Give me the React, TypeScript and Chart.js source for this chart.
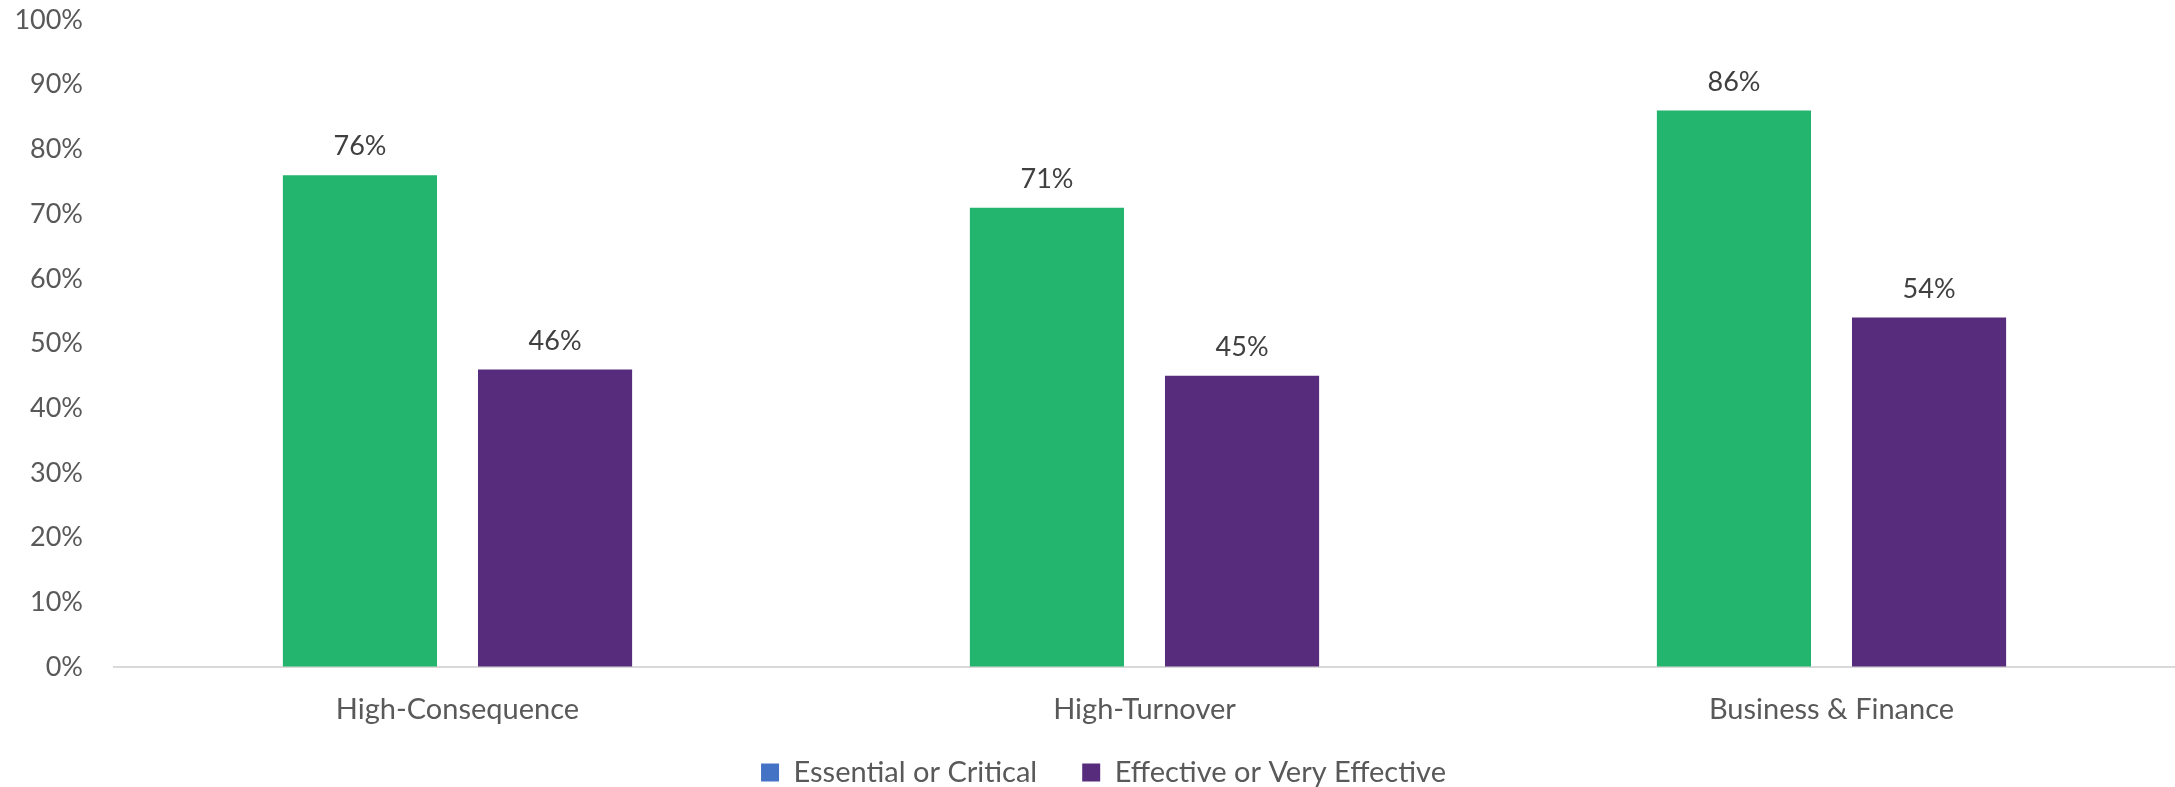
import React, { useEffect, useRef } from "react";
import { Chart, registerables } from "chart.js";

Chart.register(...registerables);

const categories = ["High-Consequence", "High-Turnover", "Business & Finance"];
const seriesNames = ["Essential or Critical", "Effective or Very Effective"];
const essentialValues = [76, 71, 86];
const effectiveValues = [46, 45, 54];
const yTicks = [0, 10, 20, 30, 40, 50, 60, 70, 80, 90, 100];

const FONT = "Lato, 'Open Sans', sans-serif";

const dataLabelPlugin = {
  id: "dataLabels",
  afterLayout(chart: any) {
    // let x-axis category labels extend below the compact axis box (avoid clipping)
    const x = chart.scales.x;
    if (x) x.bottom = chart.height;
    const lg = chart.legend;
    if (lg) {
      lg.left += 16;
      lg.right += 16;
      if (typeof lg.adjustHitBoxes === "function") lg.adjustHitBoxes();
    }
  },
  afterDatasetsDraw(chart: any) {
    const ctx = chart.ctx;
    ctx.save();
    ctx.font = `27px ${FONT}`;
    ctx.fillStyle = "#404040";
    ctx.textAlign = "center";
    ctx.textBaseline = "bottom";
    chart.data.datasets.forEach((ds: any, i: number) => {
      const meta = chart.getDatasetMeta(i);
      meta.data.forEach((bar: any, j: number) => {
        ctx.fillText(`${ds.data[j]}%`, bar.x, bar.y - 15);
      });
    });
    ctx.restore();
  },
};

export default function App() {
  const ref = useRef<HTMLCanvasElement>(null);
  useEffect(() => {
    document.body.style.margin = "0";
    const chart = new Chart(ref.current!, {
      type: "bar",
      data: {
        labels: categories,
        datasets: [
          { label: seriesNames[0], data: essentialValues, backgroundColor: "#23B46E" },
          { label: seriesNames[1], data: effectiveValues, backgroundColor: "#582C7C" },
        ],
      },
      options: {
        animation: false,
        responsive: false,
        maintainAspectRatio: false,
        layout: { padding: { top: 20, right: 0, left: 0, bottom: 0 } },
        datasets: { bar: { categoryPercentage: 0.568, barPercentage: 0.79 } },
        scales: {
          x: {
            grid: { display: false, drawTicks: false },
            border: { display: true, color: "#D9D9D9", width: 2 },
            ticks: { color: "#595959", font: { family: FONT, size: 29 }, padding: 25 },
            afterFit: (axis: any) => {
              axis.height = 46;
            },
          },
          y: {
            min: 0,
            max: 100,
            afterBuildTicks: (axis: any) => {
              axis.ticks = yTicks.map((v) => ({ value: v }));
            },
            afterFit: (axis: any) => {
              axis.width = 114;
            },
            grid: {
              display: true,
              drawOnChartArea: false,
              drawTicks: true,
              tickLength: 31,
              color: "rgba(0,0,0,0)",
            },
            border: { display: false },
            ticks: {
              color: "#595959",
              font: { family: FONT, size: 27 },
              padding: 0,
              callback: (v: any) => `${v}%`,
            },
          },
        },
        plugins: {
          tooltip: { enabled: false },
          legend: {
            position: "bottom",
            maxHeight: 74,
            labels: {
              color: "#595959",
              font: { family: FONT, size: 29 },
              boxWidth: 18,
              boxHeight: 18,
              padding: 45,
              generateLabels: (chart: any) => {
                const colors = ["#4472C4", "#582C7C"];
                return chart.data.datasets.map((ds: any, i: number) => ({
                  text: ds.label,
                  fillStyle: colors[i],
                  strokeStyle: colors[i],
                  lineWidth: 0,
                  fontColor: "#595959",
                  datasetIndex: i,
                  hidden: false,
                }));
              },
            },
          },
        },
      },
      plugins: [dataLabelPlugin],
    } as any);
    return () => chart.destroy();
  }, []);
  return (
    <div style={{ width: 2175, height: 787 }}>
      <canvas ref={ref} width={2175} height={787} style={{ display: "block" }} />
    </div>
  );
}
